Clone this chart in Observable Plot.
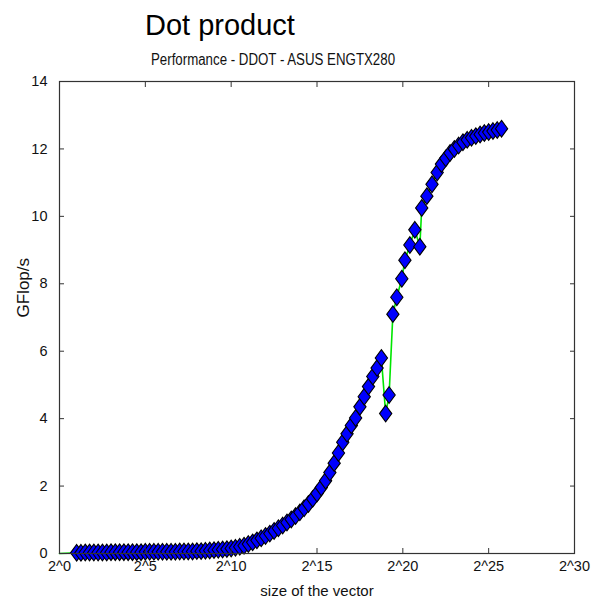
<!DOCTYPE html>
<html>
<head>
<meta charset="utf-8">
<script src="https://cdn.jsdelivr.net/npm/d3@7"></script>
<script src="https://cdn.jsdelivr.net/npm/@observablehq/plot@0.6"></script>
<style>
  html, body { margin: 0; padding: 0; background: #fff; }
  #wrap { width: 597px; }
  #title { font-family: "Liberation Sans", Arial, sans-serif; font-size: 29px; line-height: 29px; height: 29px; padding: 11px 0 0 145px; color: #000; white-space: nowrap; }
  #subtitle { height: 16px; padding: 11px 0 3px 0; width: 547px; text-align: center; white-space: nowrap; }
  #subtitle span { display: inline-block; font-family: "Liberation Sans", Arial, sans-serif; font-size: 16px; line-height: 16px; color: #111; transform: scaleX(0.83); transform-origin: 50% 50%; }
  svg { display: block; }
</style>
</head>
<body>
<div id="wrap">
  <div id="title">Dot product</div>
  <div id="subtitle"><span>Performance - DDOT - ASUS ENGTX280</span></div>
  <div id="chart"></div>
</div>
<script>
// log2 of the vector size
const sizeExp = [0,
  1,1.25,1.5,1.75,2,2.25,2.5,2.75,3,3.25,3.5,3.75,4,4.25,4.5,4.75,5,5.25,5.5,5.75,
  6,6.25,6.5,6.75,7,7.25,7.5,7.75,8,8.25,8.5,8.75,9,9.25,9.5,9.75,10,10.25,10.5,10.75,
  11,11.25,11.5,11.75,12,12.25,12.5,12.75,13,13.25,13.5,13.75,14,14.25,14.5,14.75,
  15,15.25,15.5,15.75,16,16.25,16.5,16.75,17,17.25,17.5,17.75,18,18.25,18.5,18.75,
  19.0,19.2,19.42,19.65,19.94,20.12,20.41,20.7,20.99,21.1,21.4,21.7,
  22,22.25,22.5,22.75,23,23.25,23.5,23.75,24,24.25,24.5,24.75,25,25.25,25.5,25.75];
// performance in GFlop/s
const gflops = [0,
  0.02,0.02,0.03,0.03,0.03,0.03,0.03,0.03,0.04,0.04,0.04,0.04,0.04,0.04,0.04,0.04,0.05,0.05,0.05,0.05,
  0.05,0.05,0.05,0.05,0.06,0.06,0.06,0.06,0.07,0.07,0.08,0.09,0.10,0.11,0.12,0.13,0.15,0.17,0.20,0.23,
  0.28,0.33,0.39,0.45,0.52,0.59,0.67,0.75,0.83,0.92,1.01,1.11,1.22,1.34,1.47,1.62,
  1.78,1.96,2.16,2.40,2.68,2.98,3.30,3.55,3.80,4.02,4.35,4.65,4.95,5.25,5.50,5.80,
  4.15,4.70,7.10,7.60,8.15,8.70,9.15,9.60,9.10,10.25,10.60,10.95,
  11.30,11.55,11.72,11.88,12.00,12.10,12.20,12.27,12.33,12.38,12.43,12.47,12.50,12.53,12.56,12.60];
const xTicks = [0, 5, 10, 15, 20, 25, 30];
const yTicks = [0, 2, 4, 6, 8, 10, 12, 14];
const xLabel = "size of the vector";
const yLabel = "GFlop/s";

const data = sizeExp.map((e, i) => ({e, v: gflops[i], marked: i > 0}));

const matlabDiamond = {
  draw(context, size) {
    const r = Math.sqrt(size / Math.PI);
    const w = r * 0.74;
    context.moveTo(0, -r);
    context.lineTo(w, 0);
    context.lineTo(0, r);
    context.lineTo(-w, 0);
    context.closePath();
  }
};

const axisColor = "#333";
const font = "Liberation Sans, Arial, sans-serif";

const chart = Plot.plot({
  width: 597,
  height: 529,
  marginTop: 11,
  marginBottom: 46,
  marginLeft: 59,
  marginRight: 23,
  style: {fontFamily: font, fontSize: "14px", color: "#000", background: "#fff"},
  x: {domain: [0, 30], axis: null},
  y: {domain: [0, 14], axis: null},
  marks: [
    Plot.line(data, {x: "e", y: "v", stroke: "#00e600", strokeWidth: 1.6}),
    Plot.dot(data.filter(d => d.marked), {x: "e", y: "v", r: 8.3, symbol: matlabDiamond, fill: "#0000ff", stroke: "#000", strokeWidth: 1.1}),
    Plot.frame({stroke: axisColor, strokeWidth: 1.2}),
    // inward ticks on all four sides
    Plot.axisX({anchor: "bottom", ticks: xTicks, tickSize: 5, dy: -5, tickFormat: () => "", label: null, stroke: axisColor}),
    Plot.axisX({anchor: "top", ticks: xTicks, tickSize: 5, dy: 5, tickFormat: () => "", label: null, stroke: axisColor}),
    Plot.axisY({anchor: "left", ticks: yTicks, tickSize: 5, dx: 5, tickFormat: () => "", label: null, stroke: axisColor}),
    Plot.axisY({anchor: "right", ticks: yTicks, tickSize: 5, dx: -5, tickFormat: () => "", label: null, stroke: axisColor}),
    // tick labels
    Plot.axisX({anchor: "bottom", ticks: xTicks, tickSize: 0, tickPadding: 7, tickFormat: d => "2^" + d, label: null, fontSize: 14.5, fill: "#111"}),
    Plot.axisY({anchor: "left", ticks: yTicks, tickSize: 0, tickPadding: 12, tickFormat: d => String(d), label: null, fontSize: 14.5, fill: "#111"}),
    // axis titles
    Plot.text([xLabel], {frameAnchor: "bottom", dy: 42, text: d => d, fontSize: 15, fill: "#111"}),
    Plot.text([yLabel], {frameAnchor: "left", dx: -36, rotate: -90, text: d => d, fontSize: 17, fill: "#111"})
  ]
});
document.getElementById("chart").appendChild(chart);
</script>
</body>
</html>
